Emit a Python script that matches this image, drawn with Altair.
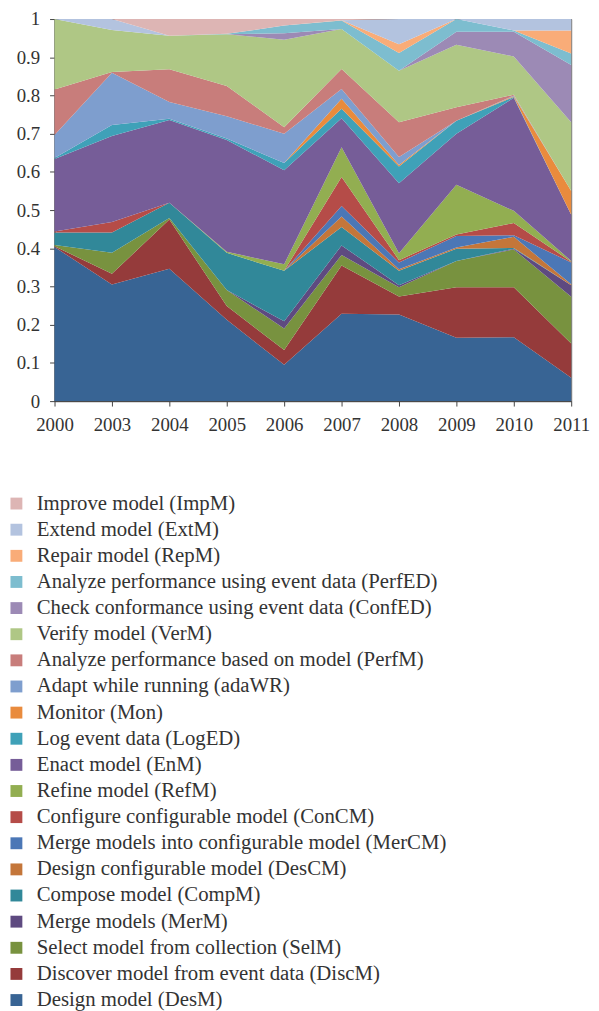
import altair as alt
import pandas as pd

years = ["2000", "2003", "2004", "2005", "2006", "2007", "2008", "2009", "2010", "2011"]

# series, bottom to top of the stack
labels = [
    "Design model (DesM)",
    "Discover model from event data (DiscM)",
    "Select model from collection (SelM)",
    "Merge models (MerM)",
    "Compose model (CompM)",
    "Design configurable model (DesCM)",
    "Merge models into configurable model (MerCM)",
    "Configure configurable model (ConCM)",
    "Refine model (RefM)",
    "Enact model (EnM)",
    "Log event data (LogED)",
    "Monitor (Mon)",
    "Adapt while running (adaWR)",
    "Analyze performance based on model (PerfM)",
    "Verify model (VerM)",
    "Check conformance using event data (ConfED)",
    "Analyze performance using event data (PerfED)",
    "Repair model (RepM)",
    "Extend model (ExtM)",
    "Improve model (ImpM)",
]

DesM   = [0.405, 0.306, 0.348, 0.214, 0.095, 0.229, 0.227, 0.166, 0.167, 0.061]
DiscM  = [0.002, 0.028, 0.129, 0.036, 0.039, 0.126, 0.047, 0.132, 0.131, 0.090]
SelM   = [0.003, 0.055, 0.004, 0.042, 0.056, 0.028, 0.024, 0.069, 0.099, 0.122]
MerM   = [0.000, 0.000, 0.000, 0.000, 0.019, 0.025, 0.005, 0.000, 0.002, 0.030]
CompM  = [0.033, 0.053, 0.040, 0.098, 0.132, 0.048, 0.038, 0.032, 0.002, 0.000]
DesCM  = [0.000, 0.000, 0.000, 0.000, 0.000, 0.028, 0.004, 0.003, 0.029, 0.003]
MerCM  = [0.000, 0.000, 0.000, 0.000, 0.000, 0.027, 0.018, 0.030, 0.004, 0.057]
ConCM  = [0.003, 0.028, 0.000, 0.000, 0.000, 0.076, 0.006, 0.004, 0.032, 0.002]
RefM   = [0.000, 0.000, 0.000, 0.003, 0.017, 0.078, 0.018, 0.130, 0.032, 0.002]
EnM    = [0.190, 0.225, 0.218, 0.294, 0.246, 0.076, 0.183, 0.134, 0.296, 0.121]
LogED  = [0.003, 0.029, 0.003, 0.004, 0.019, 0.025, 0.044, 0.034, 0.002, 0.000]
Mon    = [0.000, 0.000, 0.000, 0.000, 0.000, 0.026, 0.004, 0.000, 0.002, 0.062]
adaWR  = [0.060, 0.137, 0.044, 0.058, 0.077, 0.026, 0.021, 0.000, 0.002, 0.000]
PerfM  = [0.120, 0.002, 0.086, 0.080, 0.017, 0.052, 0.091, 0.035, 0.002, 0.000]
VerM   = [0.185, 0.110, 0.088, 0.136, 0.229, 0.105, 0.135, 0.164, 0.100, 0.180]
ConfED = [0.000, 0.000, 0.000, 0.000, 0.017, 0.000, 0.000, 0.034, 0.065, 0.150]
PerfED = [0.000, 0.000, 0.000, 0.001, 0.020, 0.022, 0.046, 0.033, 0.003, 0.030]
RepM   = [0.000, 0.000, 0.000, 0.000, 0.000, 0.001, 0.023, 0.000, 0.000, 0.060]
ExtM   = [0.000, 0.029, 0.000, 0.000, 0.000, 0.000, 0.066, 0.000, 0.030, 0.030]
ImpM   = [0.000, 0.000, 0.044, 0.039, 0.017, 0.003, 0.000, 0.000, 0.000, 0.000]

series = [DesM, DiscM, SelM, MerM, CompM, DesCM, MerCM, ConCM, RefM, EnM,
          LogED, Mon, adaWR, PerfM, VerM, ConfED, PerfED, RepM, ExtM, ImpM]

colors = ["#386494", "#953B3B", "#78923F", "#5E4A80", "#318899", "#C4763A",
          "#4B77B6", "#B54C48", "#92AE51", "#765D98", "#3FA1B8", "#E98B3D",
          "#7E9ECE", "#C87D7B", "#AFC785", "#9C8AB5", "#7DBDCF", "#F9AC78",
          "#B3C3DF", "#DDB5B4"]

y_ticks = [i / 10 for i in range(11)]

rows = []
for rank, (lab, vals) in enumerate(zip(labels, series)):
    for yr, v in zip(years, vals):
        rows.append({"year": yr, "series": lab, "value": v, "rank": rank})
df = pd.DataFrame(rows)

FONT = "Liberation Serif"
TXT = "#333333"

chart = alt.Chart(df).mark_area(opacity=1).encode(
    x=alt.X("year:O", sort=years,
            scale=alt.Scale(type="point", padding=0),
            axis=alt.Axis(title=None, labelAngle=0, tickSize=5, labelPadding=10,
                          domainColor="#444", tickColor="#444",
                          labelFont=FONT, labelFontSize=19, labelColor=TXT)),
    y=alt.Y("value:Q", stack="normalize",
            scale=alt.Scale(domain=[0, 1], nice=False),
            axis=alt.Axis(title=None, values=y_ticks,
                          labelExpr="datum.value == 0 ? '0' : (datum.value >= 0.999 ? '1' : format(datum.value, '.1f'))",
                          grid=False, tickSize=5, labelPadding=10,
                          domainColor="#444", tickColor="#444",
                          labelFont=FONT, labelFontSize=19, labelColor=TXT)),
    color=alt.Color("series:N",
                    scale=alt.Scale(domain=labels[::-1], range=colors[::-1]),
                    legend=alt.Legend(title=None, orient="none", legendX=-49, legendY=479,
                                      direction="vertical", columns=1,
                                      symbolType="square", symbolSize=144,
                                      symbolStrokeWidth=0, symbolOpacity=1,
                                      labelFont=FONT, labelFontSize=21, labelColor=TXT,
                                      labelOffset=10, labelLimit=0, rowPadding=4.4,
                                      padding=0)),
    order=alt.Order("rank:Q", sort="ascending"),
).properties(
    width=522, height=386,
    autosize=alt.AutoSizeParams(type="none"),
    padding={"left": 47, "top": 6, "right": 20, "bottom": 611},
).configure_view(stroke="#666", strokeWidth=1)

chart.save("out.html", embed_options={"renderer": "svg", "actions": False})
